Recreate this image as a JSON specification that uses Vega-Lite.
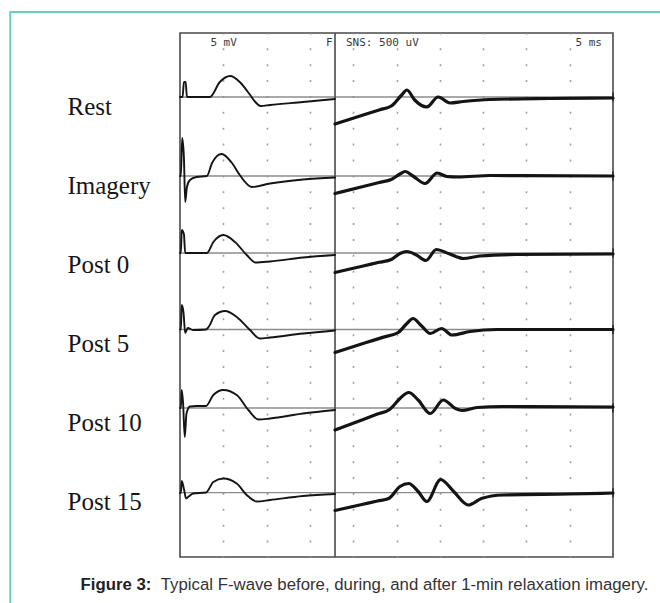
{
  "$schema": "https://vega.github.io/schema/vega-lite/v6.json",
  "width": 433,
  "height": 524,
  "autosize": {"type": "none"},
  "padding": {"left": 180, "top": 33, "right": 47, "bottom": 46},
  "background": "white",
  "config": {"view": {"stroke": "#4a4a4a", "strokeWidth": 1.6}, "font": "Liberation Sans"},
  "datasets": {
    "rows": [
      {"row": "Rest", "base": 460},
      {"row": "Imagery", "base": 381},
      {"row": "Post 0", "base": 304},
      {"row": "Post 5", "base": 227.5},
      {"row": "Post 10", "base": 149},
      {"row": "Post 15", "base": 64.3}
    ],
    "traces": [
      {"row": "Rest", "part": "M", "t": 0, "v": 460},
      {"row": "Rest", "part": "M", "t": 0.3, "v": 460},
      {"row": "Rest", "part": "M", "t": 0.45, "v": 475},
      {"row": "Rest", "part": "M", "t": 0.65, "v": 475},
      {"row": "Rest", "part": "M", "t": 0.8, "v": 460},
      {"row": "Rest", "part": "M", "t": 3.45, "v": 460},
      {"row": "Rest", "part": "M", "t": 4.6, "v": 475},
      {"row": "Rest", "part": "M", "t": 5.8, "v": 481},
      {"row": "Rest", "part": "M", "t": 6.9, "v": 475},
      {"row": "Rest", "part": "M", "t": 8.1, "v": 462},
      {"row": "Rest", "part": "M", "t": 8.7, "v": 455},
      {"row": "Rest", "part": "M", "t": 9.3, "v": 451},
      {"row": "Rest", "part": "M", "t": 10.4, "v": 452},
      {"row": "Rest", "part": "M", "t": 14.2, "v": 455},
      {"row": "Rest", "part": "M", "t": 17.9, "v": 458},
      {"row": "Rest", "part": "F", "t": 17.9, "v": 433},
      {"row": "Rest", "part": "F", "t": 21.15, "v": 442},
      {"row": "Rest", "part": "F", "t": 23.0, "v": 447.1},
      {"row": "Rest", "part": "F", "t": 24.4, "v": 451},
      {"row": "Rest", "part": "F", "t": 25.6, "v": 462},
      {"row": "Rest", "part": "F", "t": 26.2, "v": 467},
      {"row": "Rest", "part": "F", "t": 27.1, "v": 457},
      {"row": "Rest", "part": "F", "t": 28.5, "v": 450},
      {"row": "Rest", "part": "F", "t": 29.8, "v": 460},
      {"row": "Rest", "part": "F", "t": 31.2, "v": 454},
      {"row": "Rest", "part": "F", "t": 32.7, "v": 455.5},
      {"row": "Rest", "part": "F", "t": 35.8, "v": 457.5},
      {"row": "Rest", "part": "F", "t": 42.7, "v": 458.5},
      {"row": "Rest", "part": "F", "t": 50, "v": 459},
      {"row": "Imagery", "part": "M", "t": 0, "v": 381},
      {"row": "Imagery", "part": "M", "t": 0.1, "v": 381},
      {"row": "Imagery", "part": "M", "t": 0.25, "v": 419},
      {"row": "Imagery", "part": "M", "t": 0.45, "v": 400},
      {"row": "Imagery", "part": "M", "t": 0.6, "v": 355},
      {"row": "Imagery", "part": "M", "t": 0.8, "v": 370},
      {"row": "Imagery", "part": "M", "t": 1.15, "v": 377},
      {"row": "Imagery", "part": "M", "t": 1.9, "v": 380},
      {"row": "Imagery", "part": "M", "t": 3.1, "v": 381},
      {"row": "Imagery", "part": "M", "t": 3.7, "v": 394},
      {"row": "Imagery", "part": "M", "t": 4.8, "v": 403},
      {"row": "Imagery", "part": "M", "t": 6.0, "v": 394},
      {"row": "Imagery", "part": "M", "t": 6.9, "v": 382},
      {"row": "Imagery", "part": "M", "t": 8.3, "v": 370},
      {"row": "Imagery", "part": "M", "t": 10.4, "v": 373.5},
      {"row": "Imagery", "part": "M", "t": 14.2, "v": 377.5},
      {"row": "Imagery", "part": "M", "t": 17.9, "v": 379.5},
      {"row": "Imagery", "part": "F", "t": 17.9, "v": 363.5},
      {"row": "Imagery", "part": "F", "t": 21.15, "v": 370.5},
      {"row": "Imagery", "part": "F", "t": 23.0, "v": 374.5},
      {"row": "Imagery", "part": "F", "t": 24.4, "v": 377.5},
      {"row": "Imagery", "part": "F", "t": 25.4, "v": 383},
      {"row": "Imagery", "part": "F", "t": 26.0, "v": 385.5},
      {"row": "Imagery", "part": "F", "t": 26.9, "v": 381},
      {"row": "Imagery", "part": "F", "t": 28.3, "v": 373.5},
      {"row": "Imagery", "part": "F", "t": 29.7, "v": 384},
      {"row": "Imagery", "part": "F", "t": 30.8, "v": 380.5},
      {"row": "Imagery", "part": "F", "t": 32.1, "v": 380},
      {"row": "Imagery", "part": "F", "t": 35.8, "v": 381.5},
      {"row": "Imagery", "part": "F", "t": 50, "v": 381},
      {"row": "Post 0", "part": "M", "t": 0, "v": 304},
      {"row": "Post 0", "part": "M", "t": 0.1, "v": 304},
      {"row": "Post 0", "part": "M", "t": 0.2, "v": 327},
      {"row": "Post 0", "part": "M", "t": 0.45, "v": 323},
      {"row": "Post 0", "part": "M", "t": 0.6, "v": 304},
      {"row": "Post 0", "part": "M", "t": 3.1, "v": 304},
      {"row": "Post 0", "part": "M", "t": 3.85, "v": 315},
      {"row": "Post 0", "part": "M", "t": 5.0, "v": 322},
      {"row": "Post 0", "part": "M", "t": 6.35, "v": 315},
      {"row": "Post 0", "part": "M", "t": 7.7, "v": 302},
      {"row": "Post 0", "part": "M", "t": 8.7, "v": 294.5},
      {"row": "Post 0", "part": "M", "t": 10.4, "v": 295.5},
      {"row": "Post 0", "part": "M", "t": 14.2, "v": 299.5},
      {"row": "Post 0", "part": "M", "t": 17.9, "v": 302},
      {"row": "Post 0", "part": "F", "t": 17.9, "v": 284.5},
      {"row": "Post 0", "part": "F", "t": 21.15, "v": 291},
      {"row": "Post 0", "part": "F", "t": 23.0, "v": 294.7},
      {"row": "Post 0", "part": "F", "t": 24.4, "v": 297.5},
      {"row": "Post 0", "part": "F", "t": 25.4, "v": 303.5},
      {"row": "Post 0", "part": "F", "t": 26.2, "v": 305.5},
      {"row": "Post 0", "part": "F", "t": 27.3, "v": 302},
      {"row": "Post 0", "part": "F", "t": 28.4, "v": 296.5},
      {"row": "Post 0", "part": "F", "t": 29.6, "v": 307.5},
      {"row": "Post 0", "part": "F", "t": 31.0, "v": 303.5},
      {"row": "Post 0", "part": "F", "t": 32.7, "v": 298.5},
      {"row": "Post 0", "part": "F", "t": 34.6, "v": 301},
      {"row": "Post 0", "part": "F", "t": 38.9, "v": 302.5},
      {"row": "Post 0", "part": "F", "t": 50, "v": 303},
      {"row": "Post 5", "part": "M", "t": 0, "v": 227.5},
      {"row": "Post 5", "part": "M", "t": 0.1, "v": 227.5},
      {"row": "Post 5", "part": "M", "t": 0.2, "v": 252},
      {"row": "Post 5", "part": "M", "t": 0.4, "v": 245},
      {"row": "Post 5", "part": "M", "t": 0.6, "v": 224},
      {"row": "Post 5", "part": "M", "t": 0.9, "v": 229},
      {"row": "Post 5", "part": "M", "t": 1.5, "v": 227},
      {"row": "Post 5", "part": "M", "t": 3.0, "v": 227.5},
      {"row": "Post 5", "part": "M", "t": 3.3, "v": 230},
      {"row": "Post 5", "part": "M", "t": 4.04, "v": 242},
      {"row": "Post 5", "part": "M", "t": 5.2, "v": 246},
      {"row": "Post 5", "part": "M", "t": 6.55, "v": 240},
      {"row": "Post 5", "part": "M", "t": 8.08, "v": 227},
      {"row": "Post 5", "part": "M", "t": 9.24, "v": 218.5},
      {"row": "Post 5", "part": "M", "t": 10.4, "v": 219.5},
      {"row": "Post 5", "part": "M", "t": 14.2, "v": 223.5},
      {"row": "Post 5", "part": "M", "t": 17.9, "v": 226.5},
      {"row": "Post 5", "part": "F", "t": 17.9, "v": 204.5},
      {"row": "Post 5", "part": "F", "t": 21.5, "v": 214.4},
      {"row": "Post 5", "part": "F", "t": 23.5, "v": 219.9},
      {"row": "Post 5", "part": "F", "t": 25.2, "v": 224.5},
      {"row": "Post 5", "part": "F", "t": 26.2, "v": 233.5},
      {"row": "Post 5", "part": "F", "t": 26.9, "v": 238.5},
      {"row": "Post 5", "part": "F", "t": 27.9, "v": 231},
      {"row": "Post 5", "part": "F", "t": 28.9, "v": 223.5},
      {"row": "Post 5", "part": "F", "t": 30.2, "v": 228.5},
      {"row": "Post 5", "part": "F", "t": 31.4, "v": 222},
      {"row": "Post 5", "part": "F", "t": 33.5, "v": 225.5},
      {"row": "Post 5", "part": "F", "t": 36.6, "v": 227.5},
      {"row": "Post 5", "part": "F", "t": 50, "v": 227.5},
      {"row": "Post 10", "part": "M", "t": 0, "v": 149},
      {"row": "Post 10", "part": "M", "t": 0.1, "v": 149},
      {"row": "Post 10", "part": "M", "t": 0.2, "v": 167},
      {"row": "Post 10", "part": "M", "t": 0.35, "v": 155},
      {"row": "Post 10", "part": "M", "t": 0.55, "v": 120},
      {"row": "Post 10", "part": "M", "t": 0.75, "v": 143.5},
      {"row": "Post 10", "part": "M", "t": 1.15, "v": 150.5},
      {"row": "Post 10", "part": "M", "t": 1.9, "v": 151},
      {"row": "Post 10", "part": "M", "t": 3.0, "v": 151},
      {"row": "Post 10", "part": "M", "t": 3.85, "v": 162},
      {"row": "Post 10", "part": "M", "t": 5.0, "v": 167},
      {"row": "Post 10", "part": "M", "t": 6.55, "v": 162},
      {"row": "Post 10", "part": "M", "t": 7.9, "v": 147},
      {"row": "Post 10", "part": "M", "t": 9.05, "v": 137.5},
      {"row": "Post 10", "part": "M", "t": 10.4, "v": 138.5},
      {"row": "Post 10", "part": "M", "t": 14.2, "v": 143.5},
      {"row": "Post 10", "part": "M", "t": 17.9, "v": 147},
      {"row": "Post 10", "part": "F", "t": 17.9, "v": 127},
      {"row": "Post 10", "part": "F", "t": 21.0, "v": 137.1},
      {"row": "Post 10", "part": "F", "t": 22.8, "v": 142.9},
      {"row": "Post 10", "part": "F", "t": 24.2, "v": 147.5},
      {"row": "Post 10", "part": "F", "t": 25.4, "v": 158.5},
      {"row": "Post 10", "part": "F", "t": 26.4, "v": 164.5},
      {"row": "Post 10", "part": "F", "t": 27.5, "v": 157},
      {"row": "Post 10", "part": "F", "t": 28.9, "v": 143.5},
      {"row": "Post 10", "part": "F", "t": 30.4, "v": 157},
      {"row": "Post 10", "part": "F", "t": 31.8, "v": 148.5},
      {"row": "Post 10", "part": "F", "t": 32.6, "v": 146.5},
      {"row": "Post 10", "part": "F", "t": 34.3, "v": 149.5},
      {"row": "Post 10", "part": "F", "t": 37.3, "v": 150.5},
      {"row": "Post 10", "part": "F", "t": 50, "v": 150},
      {"row": "Post 15", "part": "M", "t": 0, "v": 64},
      {"row": "Post 15", "part": "M", "t": 0.1, "v": 64},
      {"row": "Post 15", "part": "M", "t": 0.2, "v": 76},
      {"row": "Post 15", "part": "M", "t": 0.5, "v": 66},
      {"row": "Post 15", "part": "M", "t": 0.7, "v": 58.5},
      {"row": "Post 15", "part": "M", "t": 1.0, "v": 60.5},
      {"row": "Post 15", "part": "M", "t": 1.5, "v": 63.5},
      {"row": "Post 15", "part": "M", "t": 3.0, "v": 64.5},
      {"row": "Post 15", "part": "M", "t": 3.85, "v": 75},
      {"row": "Post 15", "part": "M", "t": 5.0, "v": 78.5},
      {"row": "Post 15", "part": "M", "t": 6.55, "v": 73.5},
      {"row": "Post 15", "part": "M", "t": 7.7, "v": 62},
      {"row": "Post 15", "part": "M", "t": 8.86, "v": 55.5},
      {"row": "Post 15", "part": "M", "t": 10.4, "v": 57},
      {"row": "Post 15", "part": "M", "t": 14.2, "v": 61},
      {"row": "Post 15", "part": "M", "t": 17.9, "v": 63},
      {"row": "Post 15", "part": "F", "t": 17.9, "v": 46.5},
      {"row": "Post 15", "part": "F", "t": 21.0, "v": 52.5},
      {"row": "Post 15", "part": "F", "t": 22.8, "v": 56},
      {"row": "Post 15", "part": "F", "t": 24.1, "v": 58.5},
      {"row": "Post 15", "part": "F", "t": 25.4, "v": 70.5},
      {"row": "Post 15", "part": "F", "t": 26.4, "v": 73.5},
      {"row": "Post 15", "part": "F", "t": 27.5, "v": 65.5},
      {"row": "Post 15", "part": "F", "t": 28.5, "v": 55.5},
      {"row": "Post 15", "part": "F", "t": 30.1, "v": 77.5},
      {"row": "Post 15", "part": "F", "t": 31.6, "v": 65.5},
      {"row": "Post 15", "part": "F", "t": 33.3, "v": 52},
      {"row": "Post 15", "part": "F", "t": 34.8, "v": 58.5},
      {"row": "Post 15", "part": "F", "t": 37.3, "v": 62},
      {"row": "Post 15", "part": "F", "t": 45, "v": 63},
      {"row": "Post 15", "part": "F", "t": 50, "v": 64}
    ]
  },
  "layer": [
    {
      "data": {"values": [{}]},
      "mark": {"type": "rect", "filled": false, "stroke": "#66d0c1", "strokeWidth": 2},
      "encoding": {
        "x": {"datum": -19.6, "type": "quantitative", "scale": {"domain": [0, 50], "nice": false, "zero": false}, "axis": null},
        "x2": {"datum": 70},
        "y": {"datum": 545, "type": "quantitative", "scale": {"domain": [0, 524], "nice": false, "zero": false}, "axis": null},
        "y2": {"datum": -120}
      }
    },
    {
      "data": {"name": "rows"},
      "mark": {"type": "rule", "color": "#8c8c8c", "strokeWidth": 1.3},
      "encoding": {
        "y": {
          "field": "base", "type": "quantitative",
          "scale": {"domain": [0, 524], "nice": false, "zero": false},
          "axis": {
            "orient": "left",
            "values": [460, 381, 302, 223, 144, 65],
            "labelExpr": "datum.value > 420 ? 'Rest' : datum.value > 340 ? 'Imagery' : datum.value > 260 ? 'Post 0' : datum.value > 180 ? 'Post 5' : datum.value > 100 ? 'Post 10' : 'Post 15'",
            "ticks": false, "domain": false, "grid": false,
            "labelAlign": "left", "labelBaseline": "alphabetic",
            "labelPadding": 113, "labelOffset": 17.5,
            "labelFont": "Liberation Serif", "labelFontSize": 25, "labelColor": "#161616",
            "labelOverlap": false, "labelFlush": false, "labelBound": false, "labelLimit": 200,
            "title": "Figure 3:", "titleAngle": 0, "titleX": -100, "titleY": 556,
            "titleAlign": "left", "titleBaseline": "alphabetic",
            "titleFont": "Liberation Sans", "titleFontSize": 16.8, "titleFontWeight": "bold", "titleColor": "#222222"
          }
        }
      }
    },
    {
      "data": {"name": "rows"},
      "mark": {"type": "tick", "orient": "vertical", "size": 9, "thickness": 2, "color": "#222222"},
      "encoding": {
        "x": {"datum": 50, "type": "quantitative", "scale": {"domain": [0, 50], "nice": false, "zero": false}, "axis": null},
        "y": {"field": "base", "type": "quantitative", "scale": {"domain": [0, 524], "nice": false, "zero": false}, "axis": null}
      }
    },
    {
      "data": {"values": [{}]},
      "mark": {"type": "rule", "color": "#4a4a4a", "strokeWidth": 1.6},
      "encoding": {
        "x": {
          "datum": 17.9, "type": "quantitative",
          "scale": {"domain": [0, 50], "nice": false, "zero": false},
          "axis": {
            "orient": "bottom",
            "values": [5, 10, 15, 20, 25, 30, 35, 40, 45],
            "grid": true, "gridColor": "#a0a0a0", "gridWidth": 1.6,
            "gridDash": [2, 13.88], "gridDashOffset": 1,
            "labels": false, "ticks": false, "domain": false,
            "title": "Typical F-wave before, during, and after 1-min relaxation imagery.",
            "titleX": -19.7, "titleY": 32, "titleAlign": "left", "titleBaseline": "alphabetic",
            "titleFont": "Liberation Sans", "titleFontSize": 16.8, "titleFontWeight": "normal", "titleColor": "#333333"
          }
        }
      }
    },
    {
      "data": {"name": "traces"},
      "mark": {"type": "line", "interpolate": "monotone", "color": "#141414", "strokeJoin": "round", "strokeCap": "round"},
      "encoding": {
        "x": {
          "field": "t", "type": "quantitative",
          "scale": {"domain": [0, 50], "nice": false, "zero": false},
          "axis": {
            "orient": "top",
            "values": [3.45, 16.8, 19.1, 45.6],
            "labelExpr": "datum.value < 5 ? '5  mV' : datum.value < 18 ? 'F' : datum.value < 30 ? 'SNS:  500  uV' : '5  ms'",
            "ticks": false, "domain": false, "grid": false,
            "labelAlign": "left", "labelBaseline": "top", "labelPadding": -3,
            "labelFont": "DejaVu Sans Mono", "labelFontSize": 11, "labelColor": "#3a3a3a",
            "labelFlush": false, "labelOverlap": false, "labelBound": false,
            "title": null
          }
        },
        "y": {"field": "v", "type": "quantitative", "scale": {"domain": [0, 524], "nice": false, "zero": false}, "axis": null},
        "detail": [{"field": "row"}, {"field": "part"}],
        "strokeWidth": {"field": "part", "type": "nominal", "scale": {"domain": ["M", "F"], "range": [1.9, 3.2]}, "legend": null}
      }
    }
  ],
  "resolve": {"axis": {"x": "independent", "y": "independent"}}
}
